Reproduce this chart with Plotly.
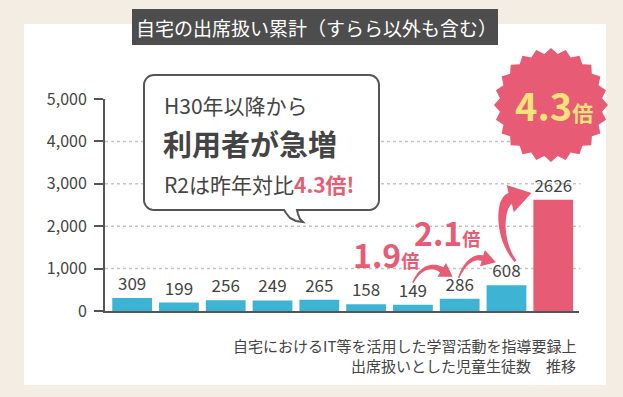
import math
import plotly.graph_objects as go

# ---- data ----
years = ["H23", "H24", "H25", "H26", "H27", "H28", "H29", "H30", "R1", "R2"]
values = [309, 199, 256, 249, 265, 158, 149, 286, 608, 2626]
bar_colors = ["#3db4d3"] * 9 + ["#e85b74"]
y_ticks = [0, 1000, 2000, 3000, 4000, 5000]
grid_vals = [1000, 2000, 3000, 4000]

title_text = "自宅の出席扱い累計（すらら以外も含む）"
note_line1 = "自宅におけるIT等を活用した学習活動を指導要録上"
note_line2 = "出席扱いとした児童生徒数　推移"

# ---- layout geometry (pixels) ----
W, H = 623, 397
L, R, T, B = 105, 44, 99, 86
PW, PH = W - L - R, H - T - B
XR = [-0.58, 9.55]
YR = [0, 5000]

PINK = "#e85b74"
DARK = "#444444"
FONT = "Noto Sans CJK JP"


def xpx(i):
    return L + (i - XR[0]) / (XR[1] - XR[0]) * PW


def ypx(v):
    return T + PH - (v - YR[0]) / (YR[1] - YR[0]) * PH


def px2p(px, py):
    return (px - L) / PW, (T + PH - py) / PH


def path_from_px(points):
    pts = [px2p(x, y) for x, y in points]
    return "M " + " L ".join(f"{x:.5f},{y:.5f}" for x, y in pts) + " Z"


def bez(p0, p1, p2, p3, t):
    mt = 1 - t
    return (mt**3 * p0[0] + 3 * mt**2 * t * p1[0] + 3 * mt * t**2 * p2[0] + t**3 * p3[0],
            mt**3 * p0[1] + 3 * mt**2 * t * p1[1] + 3 * mt * t**2 * p2[1] + t**3 * p3[1])


def arrow_path(p0, p1, p2, p3, w0, w1, head_len, head_half):
    n = 24
    left, right = [], []
    for k in range(n + 1):
        t = k / n
        x, y = bez(p0, p1, p2, p3, t)
        xa, ya = bez(p0, p1, p2, p3, max(0, t - 0.01))
        xb, yb = bez(p0, p1, p2, p3, min(1, t + 0.01))
        dx, dy = xb - xa, yb - ya
        d = math.hypot(dx, dy) or 1
        nx, ny = -dy / d, dx / d
        w = (w0 + (w1 - w0) * t) / 2
        left.append((x + nx * w, y + ny * w))
        right.append((x - nx * w, y - ny * w))
    dx, dy = p3[0] - p2[0], p3[1] - p2[1]
    d = math.hypot(dx, dy)
    ux, uy = dx / d, dy / d
    nx, ny = -uy, ux
    tip = (p3[0] + ux * head_len, p3[1] + uy * head_len)
    hl = (p3[0] + nx * head_half, p3[1] + ny * head_half)
    hr = (p3[0] - nx * head_half, p3[1] - ny * head_half)
    pts = left + [hl, tip, hr] + right[::-1]
    return path_from_px(pts)


fig = go.Figure()
fig.add_trace(go.Bar(
    x=years, y=values,
    marker=dict(color=bar_colors, line=dict(width=0)),
    width=0.85,
    text=[str(v) for v in values],
    textposition="outside",
    textfont=dict(family=FONT, size=17, color=DARK),
    constraintext="none",
    cliponaxis=False,
    hoverinfo="skip",
))

shapes = []
# white card
cx0, cy0 = px2p(24, 24)
cx1, cy1 = px2p(606, 385)
shapes.append(dict(type="rect", xref="paper", yref="paper", x0=cx0, y0=cy0, x1=cx1, y1=cy1,
                   fillcolor="white", line=dict(width=0), layer="below"))
# gridlines
for v in grid_vals:
    shapes.append(dict(type="line", xref="paper", yref="y", x0=0, x1=1.003, y0=v, y1=v,
                       line=dict(color="#c4c4c4", width=1.5, dash="dot"), layer="below"))
# title box
tx0, ty0 = px2p(132, 9)
tx1, ty1 = px2p(498, 45)
shapes.append(dict(type="rect", xref="paper", yref="paper", x0=tx0, y0=ty0, x1=tx1, y1=ty1,
                   fillcolor="#4d4d4d", line=dict(width=0), layer="above"))

# callout box with tail
bx0, by0, bx1, by1, r = 144, 75, 379, 210, 10
pts = []
def arc(cx, cy, a0, a1):
    out = []
    for k in range(9):
        a = math.radians(a0 + (a1 - a0) * k / 8)
        out.append((cx + r * math.cos(a), cy + r * math.sin(a)))
    return out
pts += arc(bx0 + r, by0 + r, 180, 270)
pts += arc(bx1 - r, by0 + r, 270, 360)
pts += arc(bx1 - r, by1 - r, 0, 90)
pts += [(297, by1), (298, 214), (300, 219), (303, 222), (296, 221), (290, 218), (286, 213), (284, by1)]
pts += arc(bx0 + r, by1 - r, 90, 180)
shapes.append(dict(type="path", xref="paper", yref="paper", path=path_from_px(pts),
                   fillcolor="white", line=dict(color="#555555", width=2), layer="above"))

# starburst badge
scx, scy = 551, 105
star = []
nt = 24
for k in range(nt * 2):
    a = math.pi * k / nt
    rr = 57 if k % 2 == 0 else 51.5
    star.append((scx + rr * math.cos(a), scy + rr * math.sin(a)))
shapes.append(dict(type="path", xref="paper", yref="paper", path=path_from_px(star),
                   fillcolor=PINK, line=dict(width=0), layer="above"))

# growth arrows anchored to bar positions/values
a1 = arrow_path((xpx(6), ypx(values[6]) - 22), (xpx(6) + 7, ypx(values[6]) - 37),
                (xpx(6) + 19, ypx(values[6]) - 41), (xpx(7) - 18, ypx(values[7]) - 29),
                1.5, 6, 13, 8)
a2 = arrow_path((xpx(7) - 1, ypx(values[7]) - 21), (xpx(7) + 5, ypx(values[7]) - 37),
                (xpx(7) + 15, ypx(values[7]) - 43), (xpx(8) - 24, ypx(values[8]) - 27),
                1.5, 6, 14, 8.5)
a3 = arrow_path((xpx(8) + 9, ypx(values[8]) - 24), (xpx(8) - 10, ypx(values[8]) - 48),
                (xpx(8) - 6, ypx(values[8]) - 84), (xpx(9) - 43, ypx(values[9]) - 1),
                2.5, 12, 22, 14)
for p in (a1, a2, a3):
    shapes.append(dict(type="path", xref="paper", yref="paper", path=p,
                       fillcolor=PINK, line=dict(width=0), layer="above"))

annotations = []
def ann(px, py, text, size, color=DARK, xanchor="center", align="center", bold=False, yanchor="middle"):
    x, y = px2p(px, py)
    annotations.append(dict(xref="paper", yref="paper", x=x, y=y, text=(f"<b>{text}</b>" if bold else text),
                            showarrow=False, xanchor=xanchor, yanchor=yanchor, align=align,
                            font=dict(family=FONT, size=size, color=color)))

ann(316, 27, title_text, 19, color="white")
ann(162, 105, "H30年以降から", 21, xanchor="left")
ann(161, 143, "利用者が急増", 29, xanchor="left", bold=True)
ann(162, 184, f"R2は昨年対比<span style='color:{PINK}'><b>4.3倍!</b></span>", 21, xanchor="left")
ann(578, 345, note_line1, 15, xanchor="right", align="right")
ann(578, 365, note_line2, 15, xanchor="right", align="right")
ann(554, 104, "4.3<span style='font-size:21px'>倍</span>", 38, color="#f9e27a", bold=True)
ann(386, 254, "1.9<span style='font-size:18px'>倍</span>", 32, color=PINK, bold=True)
ann(447, 232, "2.1<span style='font-size:18px'>倍</span>", 32, color=PINK, bold=True)

fig.update_layout(
    width=W, height=H,
    margin=dict(l=L, r=R, t=T, b=B, pad=0),
    paper_bgcolor="#f3ede3",
    plot_bgcolor="rgba(0,0,0,0)",
    showlegend=False,
    shapes=shapes,
    annotations=annotations,
    font=dict(family=FONT, color=DARK),
    xaxis=dict(type="category", range=XR, showticklabels=False, ticks="",
               showline=True, linecolor="#555555", linewidth=2, showgrid=False, zeroline=False,
               fixedrange=True),
    yaxis=dict(range=YR, tickvals=y_ticks, tickformat=",", ticks="outside", ticklen=9,
               tickwidth=2, tickcolor="#555555", showline=True, linecolor="#555555", linewidth=2,
               showgrid=False, zeroline=False, ticklabelstandoff=4,
               tickfont=dict(family=FONT, size=16, color=DARK), fixedrange=True),
)

fig.write_html("out.html")
